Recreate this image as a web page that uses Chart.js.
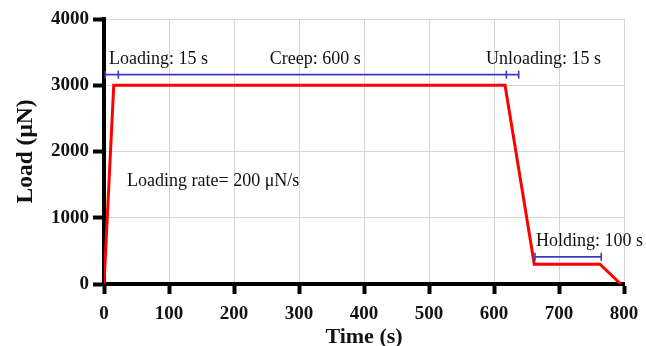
<!DOCTYPE html>
<html>
<head>
<meta charset="utf-8">
<script src="https://cdn.jsdelivr.net/npm/chart.js@4"></script>
<style>
  html, body { margin: 0; padding: 0; background: #fff; }
  #wrap { width: 646px; height: 346px; }
</style>
</head>
<body>
<div id="wrap"><canvas id="c" width="646" height="346"></canvas></div>
<script>
// Load protocol: loading, creep, unloading, holding, final unload
const timeS  = [0, 15, 617, 662, 763, 795];
const loadUN = [0, 3000, 3000, 300, 300, 0];

// Phase duration bars (time range and load level)
const phaseBarX = [2, 638];
const phaseBarLoad = 3160;
const phaseCapsX = [2, 22, 619, 638];
const holdBarX = [663, 765];
const holdBarLoad = 410;
const holdCapsX = [663, 765];

// Annotation text and anchor (time, load) of each text centre
const noteText = ['Loading: 15 s', 'Creep: 600 s', 'Unloading: 15 s', 'Holding: 100 s', 'Loading rate= 200 \u03bcN/s'];
const noteTime = [84, 325, 676, 747, 168];
const noteLoad = [3395, 3395, 3395, 640, 1545];

// Axis ticks
const xTicks = [0, 100, 200, 300, 400, 500, 600, 700, 800];
const yTicks = [0, 1000, 2000, 3000, 4000];

const serif = "'Liberation Serif', 'Times New Roman', serif";
const blue = '#3a3ac4';

const capsAndNotes = {
  id: 'capsAndNotes',
  afterDatasetsDraw(chart) {
    const { ctx, scales: { x, y } } = chart;
    ctx.save();
    ctx.strokeStyle = blue;
    ctx.lineWidth = 1.6;
    const cap = (t, l) => {
      const px = x.getPixelForValue(t), py = y.getPixelForValue(l);
      ctx.beginPath();
      ctx.moveTo(px, py - 4);
      ctx.lineTo(px, py + 4);
      ctx.stroke();
    };
    phaseCapsX.forEach(t => cap(t, phaseBarLoad));
    holdCapsX.forEach(t => cap(t, holdBarLoad));

    ctx.fillStyle = '#111';
    ctx.font = '18px ' + serif;
    ctx.textAlign = 'center';
    ctx.textBaseline = 'middle';
    noteText.forEach((s, i) => {
      ctx.fillText(s, x.getPixelForValue(noteTime[i]), y.getPixelForValue(noteLoad[i]));
    });
    ctx.restore();
  }
};

new Chart(document.getElementById('c'), {
  type: 'line',
  data: {
    datasets: [
      {
        data: timeS.map((t, i) => ({ x: t, y: loadUN[i] })),
        borderColor: '#ff0000',
        borderWidth: 3,
        pointRadius: 0,
        tension: 0,
        order: 2
      },
      {
        data: phaseBarX.map(t => ({ x: t, y: phaseBarLoad })),
        borderColor: blue,
        borderWidth: 1.8,
        pointRadius: 0,
        order: 1
      },
      {
        data: holdBarX.map(t => ({ x: t, y: holdBarLoad })),
        borderColor: blue,
        borderWidth: 1.8,
        pointRadius: 0,
        order: 1
      }
    ]
  },
  options: {
    responsive: false,
    animation: false,
    layout: { padding: { left: 0, right: 22, top: 19, bottom: 0 } },
    plugins: { legend: { display: false }, tooltip: { enabled: false } },
    scales: {
      x: {
        type: 'linear',
        min: 0, max: 800,
        afterBuildTicks(s) { s.ticks = xTicks.map(v => ({ value: v })); },
        afterFit(s) { s.height = 62; s.paddingLeft = 0; s.paddingRight = 0; },
        border: { color: '#000', width: 4 },
        grid: { color: '#d6d6d6', lineWidth: 1, tickColor: '#000', tickWidth: 4, tickLength: 10 },
        ticks: {
          color: '#111', padding: 9, font: { family: serif, size: 19, weight: 'bold' },
          callback: v => String(v)
        },
        title: {
          display: true, text: 'Time (s)', color: '#111', padding: 0,
          font: { family: serif, size: 22, weight: 'bold', lineHeight: 0.8 }
        }
      },
      y: {
        min: 0, max: 4000,
        afterBuildTicks(s) { s.ticks = yTicks.map(v => ({ value: v })); },
        afterFit(s) { s.width = 104; },
        border: { color: '#000', width: 4 },
        grid: { color: '#d6d6d6', lineWidth: 1, tickColor: '#000', tickWidth: 4, tickLength: 11 },
        ticks: {
          color: '#111', padding: 4, font: { family: serif, size: 19, weight: 'bold' },
          callback: v => String(v)
        },
        title: {
          display: true, text: 'Load (\u03bcN)', color: '#111', padding: { top: 12, bottom: 0 },
          font: { family: serif, size: 23.5, weight: 'bold', lineHeight: 1.2 }
        }
      }
    }
  },
  plugins: [capsAndNotes]
});
</script>
</body>
</html>
